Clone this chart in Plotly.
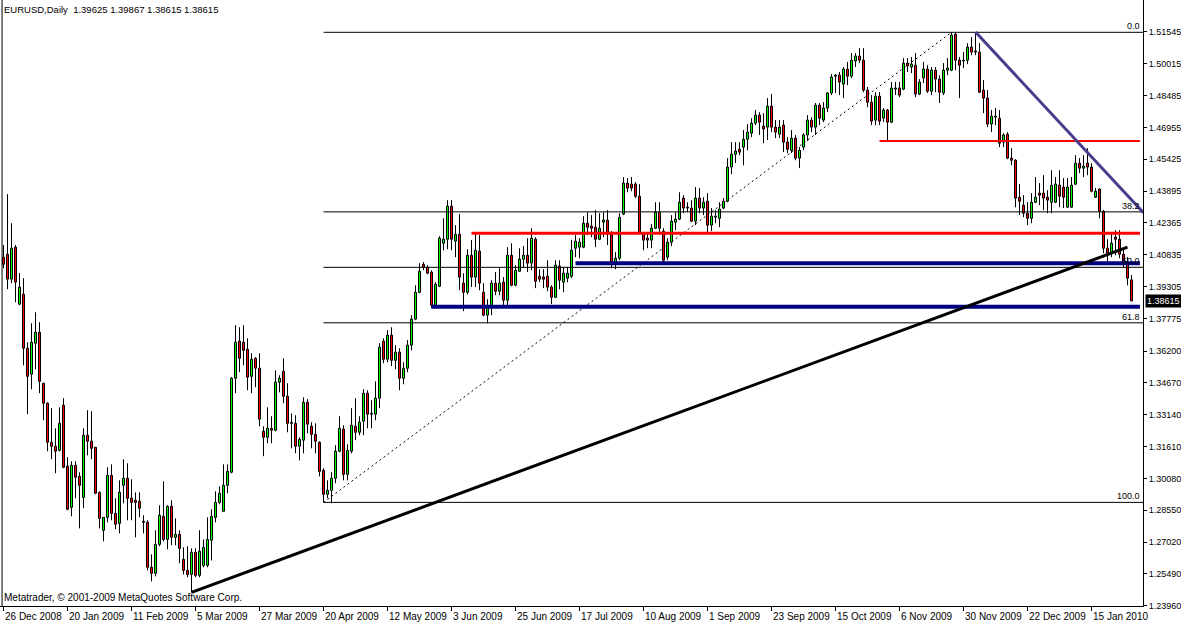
import plotly.graph_objects as go

# ---------------- data (EURUSD daily) ----------------
date_tick_idx = [0, 16, 32, 48, 64, 80, 96, 112, 128, 144, 160, 176, 192, 208, 224, 240, 256, 272]
date_labels = ["26 Dec 2008", "20 Jan 2009", "11 Feb 2009", "5 Mar 2009", "27 Mar 2009", "20 Apr 2009",
               "12 May 2009", "3 Jun 2009", "25 Jun 2009", "17 Jul 2009", "10 Aug 2009", "1 Sep 2009",
               "23 Sep 2009", "15 Oct 2009", "6 Nov 2009", "30 Nov 2009", "22 Dec 2009", "15 Jan 2010"]

price_ticks = [1.51545, 1.50015, 1.48485, 1.46955, 1.45425, 1.43895, 1.42365, 1.40835, 1.39305,
               1.37775, 1.36200, 1.34670, 1.33140, 1.31610, 1.30080, 1.28550, 1.27020, 1.25490, 1.23960]

opens = [
 1.4072, 1.4086, 1.3966, 1.4120, 1.3846, 1.3894, 1.3634, 1.3509, 1.3658, 1.3711,
 1.3466, 1.3370, 1.3182, 1.3163, 1.3143, 1.3360, 1.3067, 1.2869, 1.3071, 1.3018,
 1.2917, 1.3216, 1.3187, 1.3158, 1.2941, 1.2759, 1.2821, 1.3023, 1.2840, 1.2792,
 1.2975, 1.3009, 1.2913, 1.2903, 1.2898, 1.2802, 1.2797, 1.2581, 1.2552, 1.2691,
 1.2826, 1.2715, 1.2874, 1.2725, 1.2739, 1.2619, 1.2566, 1.2547, 1.2653, 1.2542,
 1.2590, 1.2590, 1.2711, 1.2821, 1.2893, 1.2850, 1.2975, 1.3038, 1.3490, 1.3668,
 1.3663, 1.3629, 1.3499, 1.3586, 1.3538, 1.3235, 1.3206, 1.3249, 1.3240, 1.3471,
 1.3523, 1.3403, 1.3273, 1.3273, 1.3163, 1.3192, 1.3374, 1.3259, 1.3220, 1.3182,
 1.3047, 1.2932, 1.2951, 1.3009, 1.3139, 1.3245, 1.3028, 1.3139, 1.3259, 1.3230,
 1.3283, 1.3418, 1.3317, 1.3317, 1.3394, 1.3668, 1.3581, 1.3697, 1.3576, 1.3615,
 1.3490, 1.3538, 1.3649, 1.3774, 1.3903, 1.4038, 1.4024, 1.4000, 1.3841, 1.3932,
 1.4139, 1.4158, 1.4317, 1.4149, 1.4182, 1.3947, 1.3903, 1.4081, 1.3976, 1.4101,
 1.3903, 1.3793, 1.3836, 1.3947, 1.3908, 1.3952, 1.3865, 1.4081, 1.3937, 1.4004,
 1.4062, 1.4081, 1.4043, 1.4158, 1.3980, 1.3976, 1.3980, 1.3928, 1.3879, 1.4029,
 1.3952, 1.3971, 1.3980, 1.4115, 1.4120, 1.4120, 1.4235, 1.4221, 1.4216, 1.4158,
 1.4240, 1.4250, 1.4182, 1.4038, 1.4067, 1.4279, 1.4428, 1.4423, 1.4423, 1.4365,
 1.4187, 1.4163, 1.4154, 1.4211, 1.4288, 1.4197, 1.4072, 1.4144, 1.4240, 1.4255,
 1.4356, 1.4312, 1.4308, 1.4245, 1.4356, 1.4308, 1.4341, 1.4226, 1.4264, 1.4259,
 1.4308, 1.4341, 1.4505, 1.4567, 1.4591, 1.4601, 1.4639, 1.4668, 1.4716, 1.4755,
 1.4702, 1.4697, 1.4798, 1.4697, 1.4663, 1.4707, 1.4625, 1.4586, 1.4644, 1.4548,
 1.4601, 1.4659, 1.4731, 1.4697, 1.4803, 1.4731, 1.4789, 1.4861, 1.4942, 1.4947,
 1.4904, 1.4976, 1.4942, 1.5015, 1.5039, 1.5019, 1.4875, 1.4817, 1.4731, 1.4846,
 1.4740, 1.4779, 1.4721, 1.4880, 1.4885, 1.4880, 1.5005, 1.4986, 1.4995, 1.4856,
 1.4933, 1.4976, 1.4870, 1.4971, 1.4928, 1.4861, 1.4971, 1.4971, 1.5144, 1.5019,
 1.5015, 1.5019, 1.5082, 1.5058, 1.5058, 1.4875, 1.4837, 1.4712, 1.4745, 1.4740,
 1.4625, 1.4663, 1.4548, 1.4538, 1.4360, 1.4322, 1.4283, 1.4259, 1.4336, 1.4380,
 1.4380, 1.4360, 1.4336, 1.4336, 1.4418, 1.4409, 1.4312, 1.4312, 1.4423, 1.4524,
 1.4500, 1.4524, 1.4505, 1.4360, 1.4399, 1.4293, 1.4115, 1.4091, 1.4168, 1.4158,
 1.4086, 1.4043, 1.39625]

highs = [
 1.4130, 1.4375, 1.4235, 1.4130, 1.3995, 1.3971, 1.3663, 1.3754, 1.3807, 1.3759,
 1.3466, 1.3374, 1.3346, 1.3249, 1.3350, 1.3394, 1.3110, 1.3091, 1.3091, 1.3038,
 1.3249, 1.3336, 1.3331, 1.3158, 1.2946, 1.2821, 1.3062, 1.3076, 1.2913, 1.2999,
 1.3100, 1.3081, 1.3004, 1.2941, 1.2941, 1.2831, 1.2807, 1.2643, 1.2759, 1.2879,
 1.2994, 1.2879, 1.2903, 1.2816, 1.2759, 1.2677, 1.2682, 1.2672, 1.2672, 1.2759,
 1.2715, 1.2821, 1.2860, 1.2946, 1.2970, 1.3076, 1.3076, 1.3495, 1.3745, 1.3735,
 1.3745, 1.3682, 1.3610, 1.3591, 1.3610, 1.3259, 1.3350, 1.3307, 1.3528, 1.3504,
 1.3586, 1.3466, 1.3321, 1.3312, 1.3206, 1.3398, 1.3389, 1.3278, 1.3273, 1.3187,
 1.3057, 1.2999, 1.3038, 1.3168, 1.3307, 1.3264, 1.3172, 1.3346, 1.3394, 1.3307,
 1.3437, 1.3432, 1.3384, 1.3475, 1.3658, 1.3682, 1.3721, 1.3735, 1.3649, 1.3634,
 1.3567, 1.3673, 1.3793, 1.3937, 1.4043, 1.4048, 1.4033, 1.4009, 1.3952, 1.4173,
 1.4259, 1.4346, 1.4346, 1.4226, 1.4279, 1.3995, 1.4110, 1.4154, 1.4187, 1.4178,
 1.3947, 1.3870, 1.3961, 1.4000, 1.4019, 1.3976, 1.4120, 1.4139, 1.4033, 1.4115,
 1.4125, 1.4163, 1.4211, 1.4168, 1.4014, 1.4014, 1.4057, 1.3937, 1.4057, 1.4057,
 1.4024, 1.4024, 1.4155, 1.4178, 1.4163, 1.4269, 1.4288, 1.4274, 1.4298, 1.4283,
 1.4288, 1.4298, 1.4197, 1.4096, 1.4283, 1.4457, 1.4452, 1.4457, 1.4433, 1.4423,
 1.4192, 1.4187, 1.4231, 1.4336, 1.4336, 1.4211, 1.4163, 1.4274, 1.4288, 1.4384,
 1.4370, 1.4336, 1.4346, 1.4409, 1.4404, 1.4360, 1.4380, 1.4308, 1.4298, 1.4336,
 1.4356, 1.4548, 1.4625, 1.4625, 1.4625, 1.4683, 1.4712, 1.4740, 1.4779, 1.4769,
 1.4764, 1.4837, 1.4856, 1.4731, 1.4731, 1.4731, 1.4649, 1.4683, 1.4659, 1.4601,
 1.4668, 1.4755, 1.4745, 1.4813, 1.4813, 1.4817, 1.4865, 1.4952, 1.4952, 1.4962,
 1.4986, 1.5010, 1.5053, 1.5053, 1.5077, 1.5077, 1.4890, 1.4851, 1.4865, 1.4865,
 1.4789, 1.4784, 1.4914, 1.4914, 1.4914, 1.5029, 1.5029, 1.5034, 1.5053, 1.4928,
 1.5010, 1.4995, 1.4986, 1.4986, 1.4947, 1.5005, 1.5029, 1.5154, 1.5154, 1.5034,
 1.5058, 1.5101, 1.5130, 1.5154, 1.5101, 1.4923, 1.4875, 1.4779, 1.4789, 1.4779,
 1.4668, 1.4673, 1.4596, 1.4543, 1.4423, 1.4370, 1.4336, 1.4380, 1.4457, 1.4428,
 1.4466, 1.4394, 1.4490, 1.4457, 1.4490, 1.4452, 1.4452, 1.4457, 1.4562, 1.4548,
 1.4562, 1.4596, 1.4524, 1.4404, 1.4404, 1.4298, 1.4158, 1.4187, 1.4202, 1.4202,
 1.4110, 1.4072, 1.39867]

lows = [
 1.4019, 1.3918, 1.3947, 1.3855, 1.3841, 1.3552, 1.3317, 1.3437, 1.3533, 1.3418,
 1.3288, 1.3139, 1.3100, 1.3033, 1.3139, 1.3057, 1.2855, 1.2826, 1.2913, 1.2768,
 1.2865, 1.3119, 1.3100, 1.2932, 1.2768, 1.2706, 1.2797, 1.2807, 1.2764, 1.2744,
 1.2889, 1.2807, 1.2807, 1.2725, 1.2821, 1.2744, 1.2566, 1.2513, 1.2537, 1.2682,
 1.2706, 1.2667, 1.2687, 1.2687, 1.2600, 1.2547, 1.2533, 1.2460, 1.2533, 1.2533,
 1.2581, 1.2581, 1.2614, 1.2797, 1.2884, 1.2850, 1.2937, 1.3033, 1.3418, 1.3519,
 1.3552, 1.3432, 1.3418, 1.3447, 1.3259, 1.3115, 1.3177, 1.3177, 1.3235, 1.3422,
 1.3370, 1.3230, 1.3153, 1.3129, 1.3095, 1.3129, 1.3225, 1.3153, 1.3129, 1.3018,
 1.2893, 1.2913, 1.2889, 1.2985, 1.3134, 1.2999, 1.2999, 1.3129, 1.3192, 1.3216,
 1.3216, 1.3249, 1.3249, 1.3288, 1.3346, 1.3562, 1.3567, 1.3548, 1.3533, 1.3432,
 1.3461, 1.3519, 1.3624, 1.3769, 1.3899, 1.4009, 1.3990, 1.3827, 1.3831, 1.3928,
 1.4105, 1.4110, 1.4105, 1.4072, 1.3913, 1.3812, 1.3894, 1.3928, 1.3928, 1.3913,
 1.3788, 1.3754, 1.3793, 1.3889, 1.3889, 1.3831, 1.3836, 1.3932, 1.3932, 1.4000,
 1.4024, 1.4000, 1.4009, 1.3923, 1.3952, 1.3923, 1.3908, 1.3846, 1.3875, 1.3918,
 1.3903, 1.3952, 1.3971, 1.4072, 1.4067, 1.4115, 1.4178, 1.4168, 1.4120, 1.4154,
 1.4168, 1.4130, 1.4019, 1.4014, 1.4057, 1.4274, 1.4384, 1.4389, 1.4356, 1.4182,
 1.4105, 1.4115, 1.4115, 1.4207, 1.4192, 1.4048, 1.4057, 1.4125, 1.4202, 1.4250,
 1.4283, 1.4288, 1.4240, 1.4226, 1.4283, 1.4274, 1.4187, 1.4197, 1.4235, 1.4216,
 1.4303, 1.4336, 1.4471, 1.4524, 1.4562, 1.4514, 1.4586, 1.4649, 1.4707, 1.4659,
 1.4620, 1.4635, 1.4673, 1.4644, 1.4644, 1.4577, 1.4572, 1.4572, 1.4538, 1.4500,
 1.4586, 1.4630, 1.4673, 1.4659, 1.4707, 1.4721, 1.4769, 1.4851, 1.4861, 1.4851,
 1.4837, 1.4899, 1.4933, 1.4986, 1.5005, 1.4865, 1.4793, 1.4707, 1.4707, 1.4707,
 1.4721, 1.4635, 1.4716, 1.4851, 1.4841, 1.4875, 1.4962, 1.4957, 1.4841, 1.4851,
 1.4909, 1.4861, 1.4851, 1.4865, 1.4813, 1.4851, 1.4947, 1.4966, 1.4971, 1.4837,
 1.4981, 1.5000, 1.5043, 1.5043, 1.4861, 1.4764, 1.4697, 1.4673, 1.4707, 1.4601,
 1.4601, 1.4543, 1.4514, 1.4312, 1.4274, 1.4264, 1.4226, 1.4235, 1.4332, 1.4322,
 1.4298, 1.4283, 1.4283, 1.4332, 1.4312, 1.4308, 1.4308, 1.4308, 1.4418, 1.4476,
 1.4457, 1.4466, 1.4384, 1.4356, 1.4259, 1.4091, 1.4043, 1.4072, 1.4081, 1.4067,
 1.4024, 1.3937, 1.38615]

closes = [
 1.4038, 1.3966, 1.4115, 1.3952, 1.3928, 1.3634, 1.3499, 1.3663, 1.3711, 1.3475,
 1.3370, 1.3182, 1.3163, 1.3139, 1.3273, 1.3062, 1.2860, 1.3071, 1.3014, 1.2975,
 1.3216, 1.3187, 1.3153, 1.2937, 1.2816, 1.2821, 1.3023, 1.2840, 1.2788, 1.2941,
 1.3009, 1.2913, 1.2893, 1.2893, 1.2865, 1.2797, 1.2581, 1.2552, 1.2691, 1.2831,
 1.2715, 1.2874, 1.2725, 1.2739, 1.2672, 1.2566, 1.2547, 1.2653, 1.2542, 1.2658,
 1.2677, 1.2715, 1.2826, 1.2893, 1.2937, 1.2975, 1.3042, 1.3490, 1.3663, 1.3586,
 1.3624, 1.3495, 1.3581, 1.3538, 1.3293, 1.3206, 1.3249, 1.3240, 1.3471, 1.3490,
 1.3403, 1.3273, 1.3278, 1.3163, 1.3196, 1.3374, 1.3269, 1.3220, 1.3187, 1.3042,
 1.2932, 1.2951, 1.3009, 1.3139, 1.3249, 1.3028, 1.3143, 1.3264, 1.3230, 1.3278,
 1.3418, 1.3317, 1.3321, 1.3394, 1.3639, 1.3581, 1.3697, 1.3576, 1.3615, 1.3490,
 1.3538, 1.3649, 1.3774, 1.3903, 1.4004, 1.4024, 1.3995, 1.3841, 1.3942, 1.4163,
 1.4158, 1.4317, 1.4158, 1.4182, 1.3976, 1.3903, 1.4081, 1.3976, 1.4105, 1.3947,
 1.3793, 1.3836, 1.3947, 1.3908, 1.3947, 1.3865, 1.4081, 1.3937, 1.4009, 1.4062,
 1.4081, 1.4043, 1.4163, 1.3956, 1.3966, 1.3966, 1.3928, 1.3879, 1.4033, 1.3961,
 1.3995, 1.3995, 1.4105, 1.4149, 1.4144, 1.4235, 1.4216, 1.4211, 1.4158, 1.4211,
 1.4250, 1.4182, 1.4038, 1.4067, 1.4264, 1.4428, 1.4404, 1.4404, 1.4365, 1.4187,
 1.4154, 1.4154, 1.4211, 1.4288, 1.4211, 1.4057, 1.4144, 1.4245, 1.4255, 1.4336,
 1.4308, 1.4308, 1.4245, 1.4356, 1.4308, 1.4336, 1.4226, 1.4269, 1.4269, 1.4303,
 1.4341, 1.4505, 1.4567, 1.4582, 1.4577, 1.4639, 1.4673, 1.4716, 1.4755, 1.4721,
 1.4688, 1.4798, 1.4697, 1.4673, 1.4697, 1.4625, 1.4591, 1.4644, 1.4548, 1.4586,
 1.4659, 1.4731, 1.4697, 1.4803, 1.4740, 1.4789, 1.4861, 1.4938, 1.4947, 1.4914,
 1.4976, 1.4942, 1.5019, 1.5039, 1.5019, 1.4875, 1.4817, 1.4726, 1.4846, 1.4726,
 1.4779, 1.4721, 1.4885, 1.4885, 1.4851, 1.5005, 1.4991, 1.5000, 1.4856, 1.4914,
 1.4976, 1.4870, 1.4971, 1.4928, 1.4865, 1.4971, 1.4981, 1.5140, 1.5019, 1.4995,
 1.5019, 1.5082, 1.5058, 1.5063, 1.4865, 1.4837, 1.4712, 1.4750, 1.4750, 1.4620,
 1.4659, 1.4548, 1.4538, 1.4356, 1.4341, 1.4283, 1.4259, 1.4336, 1.4360, 1.4370,
 1.4356, 1.4346, 1.4418, 1.4423, 1.4365, 1.4360, 1.4409, 1.4418, 1.4524, 1.4500,
 1.4510, 1.4505, 1.4389, 1.4389, 1.4293, 1.4115, 1.4091, 1.4139, 1.4158, 1.4086,
 1.4043, 1.3971, 1.38615]

# chart objects (bar index, price)
fib_low = (80, 1.2893)
fib_high = (237, 1.5153)
fib_levels = [0.0, 38.2, 50.0, 61.8, 100.0]
red_lines = [(219, 1.4630, 2), (117, 1.4187, 3)]          # start bar, price, width
blue_lines = [(143, 1.4043, 4), (107, 1.3834, 4)]
support_trend = [(47, 1.2460), (281, 1.4120)]
resist_trend = [(243, 1.5154), (285, 1.4286)]

title_text = "EURUSD,Daily  1.39625 1.39867 1.38615 1.38615"
copyright_text = "Metatrader, \u00a9 2001-2009 MetaQuotes Software Corp."

# ---------------- figure ----------------
FONT = "Liberation Sans, Arial, sans-serif"
n = len(opens)
idx = list(range(n))
X0, X1 = -0.875, 284.875
Y0, Y1 = 1.23948, 1.53083
RIGHT_END = 284.1

body_hi = [max(o, c) for o, c in zip(opens, closes)]
body_lo = [min(o, c) for o, c in zip(opens, closes)]

wx, wy = [], []
for i in idx:
    wx += [i, i, None, i, i, None]
    wy += [highs[i], body_hi[i], None, body_lo[i], lows[i], None]

fig = go.Figure()
fig.add_trace(go.Scatter(x=wx, y=wy, mode="lines", line=dict(color="black", width=1),
                         hoverinfo="skip", showlegend=False))
up = [i for i in idx if closes[i] >= opens[i]]
dn = [i for i in idx if closes[i] < opens[i]]
fig.add_trace(go.Bar(x=up, base=[opens[i] for i in up], y=[closes[i] - opens[i] for i in up],
                     width=0.5, marker=dict(color="#00ff00", line=dict(color="black", width=1)),
                     showlegend=False))
fig.add_trace(go.Bar(x=dn, base=[closes[i] for i in dn], y=[opens[i] - closes[i] for i in dn],
                     width=0.5, marker=dict(color="#ff0000", line=dict(color="black", width=1)),
                     showlegend=False))

shapes = []
# left frame line
shapes.append(dict(type="line", xref="paper", yref="paper", x0=0.0018, x1=0.0018, y0=0, y1=1,
                   line=dict(color="black", width=1)))
# fibonacci
rng = fib_high[1] - fib_low[1]
annotations = []
for lv in fib_levels:
    p = fib_high[1] - rng * lv / 100.0
    shapes.append(dict(type="line", xref="x", yref="y", x0=fib_low[0], x1=X1, y0=p, y1=p,
                       line=dict(color="black", width=1)))
    annotations.append(dict(x=RIGHT_END + 0.4, y=p, xref="x", yref="y", text=f"{lv:.1f}",
                            showarrow=False, xanchor="right", yanchor="bottom", yshift=-1,
                            font=dict(family=FONT, size=9, color="black")))
shapes.append(dict(type="line", xref="x", yref="y", x0=fib_low[0], y0=fib_low[1],
                   x1=fib_high[0], y1=fib_high[1], line=dict(color="black", width=1, dash="2px,3px")))
for k, p, w in red_lines:
    shapes.append(dict(type="line", xref="x", yref="y", x0=k, x1=RIGHT_END, y0=p, y1=p,
                       line=dict(color="#ff0000", width=w)))
for k, p, w in blue_lines:
    shapes.append(dict(type="line", xref="x", yref="y", x0=k, x1=RIGHT_END, y0=p, y1=p,
                       line=dict(color="#000080", width=w)))
shapes.append(dict(type="line", xref="x", yref="y", x0=support_trend[0][0], y0=support_trend[0][1],
                   x1=support_trend[1][0], y1=support_trend[1][1], line=dict(color="black", width=3)))
shapes.append(dict(type="line", xref="x", yref="y", x0=resist_trend[0][0], y0=resist_trend[0][1],
                   x1=resist_trend[1][0], y1=resist_trend[1][1], line=dict(color="#483D8B", width=3)))

# date labels (left aligned to their tick)
for k, lab in zip(date_tick_idx, date_labels):
    annotations.append(dict(x=k, y=0, xref="x", yref="paper", text=lab, showarrow=False,
                            xanchor="left", yanchor="top", xshift=-1, yshift=-3,
                            font=dict(family=FONT, size=10, color="black")))
annotations.append(dict(x=0, y=1, xref="paper", yref="paper", text=title_text, showarrow=False,
                        xanchor="left", yanchor="top", xshift=2, yshift=-2,
                        font=dict(family=FONT, size=9.5, color="black")))
annotations.append(dict(x=0, y=0, xref="paper", yref="paper", text=copyright_text, showarrow=False,
                        xanchor="left", yanchor="bottom", xshift=2, yshift=1,
                        font=dict(family=FONT, size=10, color="black")))
annotations.append(dict(x=1, y=closes[-1], xref="paper", yref="y", text=f"{closes[-1]:.5f}",
                        showarrow=False, xanchor="left", yanchor="middle", xshift=2,
                        bgcolor="black", borderpad=1,
                        font=dict(family=FONT, size=9, color="white")))

fig.update_layout(
    width=1181, height=624,
    margin=dict(l=0, r=38, t=0, b=18, pad=0),
    paper_bgcolor="white", plot_bgcolor="white",
    barmode="overlay", showlegend=False,
    shapes=shapes, annotations=annotations,
    xaxis=dict(range=[X0, X1], showgrid=False, zeroline=False, showline=True, linecolor="black",
               linewidth=1, ticks="outside", ticklen=4, tickcolor="black", tickvals=date_tick_idx,
               showticklabels=False, fixedrange=True),
    yaxis=dict(range=[Y0, Y1], side="right", showgrid=False, zeroline=False, showline=True,
               linecolor="black", linewidth=1, ticks="outside", ticklen=3, tickcolor="black",
               tickvals=price_ticks, ticktext=[f"{v:.5f}" for v in price_ticks],
               tickfont=dict(family=FONT, size=9, color="black"), fixedrange=True),
)

fig.write_html("out.html", config={"displayModeBar": False},
               post_script="document.body.style.margin='0';document.body.style.overflow='hidden';")
